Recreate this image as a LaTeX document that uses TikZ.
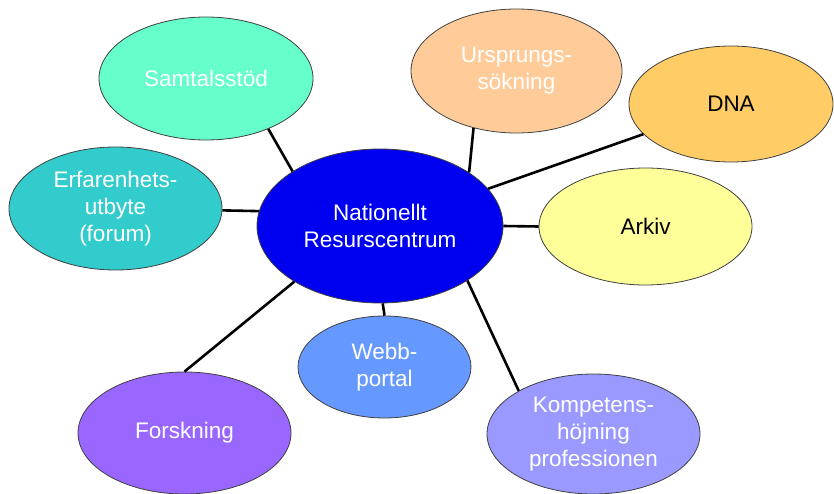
\documentclass[tikz,border=0pt]{standalone}
\usepackage{fontspec}
\setmainfont{Liberation Sans}
\usetikzlibrary{shapes.geometric}
\definecolor{cCenter}{HTML}{0000F0}
\definecolor{cSamtal}{HTML}{66FFCC}
\definecolor{cErfar}{HTML}{33CCCC}
\definecolor{cUrspr}{HTML}{FFCC99}
\definecolor{cDNA}{HTML}{FFCC66}
\definecolor{cArkiv}{HTML}{FFFF99}
\definecolor{cWebb}{HTML}{6699FF}
\definecolor{cForsk}{HTML}{9966FF}
\definecolor{cKomp}{HTML}{9999FF}
\begin{document}
\begin{tikzpicture}[x=1pt,y=-1pt,
  bubble/.style={ellipse, draw=black!75, line width=0.8pt, inner sep=0pt, align=center,
    font=\fontsize{22.5}{27}\selectfont, text=white},
  link/.style={line width=2.6pt, black}]
\useasboundingbox (0,0) rectangle (834,494);
\node[bubble, fill=cCenter, minimum width=246pt, minimum height=154pt] (c) at (380,226) {Nationellt\\Resurscentrum};
\node[bubble, fill=cSamtal, minimum width=214pt, minimum height=123pt] (s) at (206,78.5) {Samtalsstöd};
\node[bubble, fill=cErfar, minimum width=213pt, minimum height=123pt] (e) at (115.5,208.5) {Erfarenhets-\\utbyte\\(forum)};
\node[bubble, fill=cUrspr, minimum width=211pt, minimum height=124pt] (u) at (516.5,71) {Ursprungs-\\sökning};
\node[bubble, fill=cDNA, minimum width=204pt, minimum height=116pt, text=black] (d) at (731,104) {DNA};
\node[bubble, fill=cArkiv, minimum width=213pt, minimum height=117pt, text=black] (a) at (645.5,226.5) {Arkiv};
\node[bubble, fill=cWebb, minimum width=173pt, minimum height=102pt] (w) at (384.5,367) {Webb-\\portal};
\node[bubble, fill=cForsk, minimum width=213pt, minimum height=122pt] (f) at (184.5,433) {Forskning};
\node[bubble, fill=cKomp, minimum width=213pt, minimum height=120pt] (k) at (593.5,434) {Kompetens-\\höjning\\professionen};
\draw[link] (s.-39.5) -- (c.148.2);
\draw[link] (e.-1) -- (c.173.5);
\draw[link] (u.-127.4) -- (c.31.8);
\draw[link] (d.-161.7) -- (c.19.6);
\draw[link] (a.180) -- (c.0);
\draw[link] (f.90) -- (c.-147.2);
\draw[link] (w.90) -- (c.-88);
\draw[link] (k.150.9) -- (c.-32.8);
\end{tikzpicture}
\end{document}
